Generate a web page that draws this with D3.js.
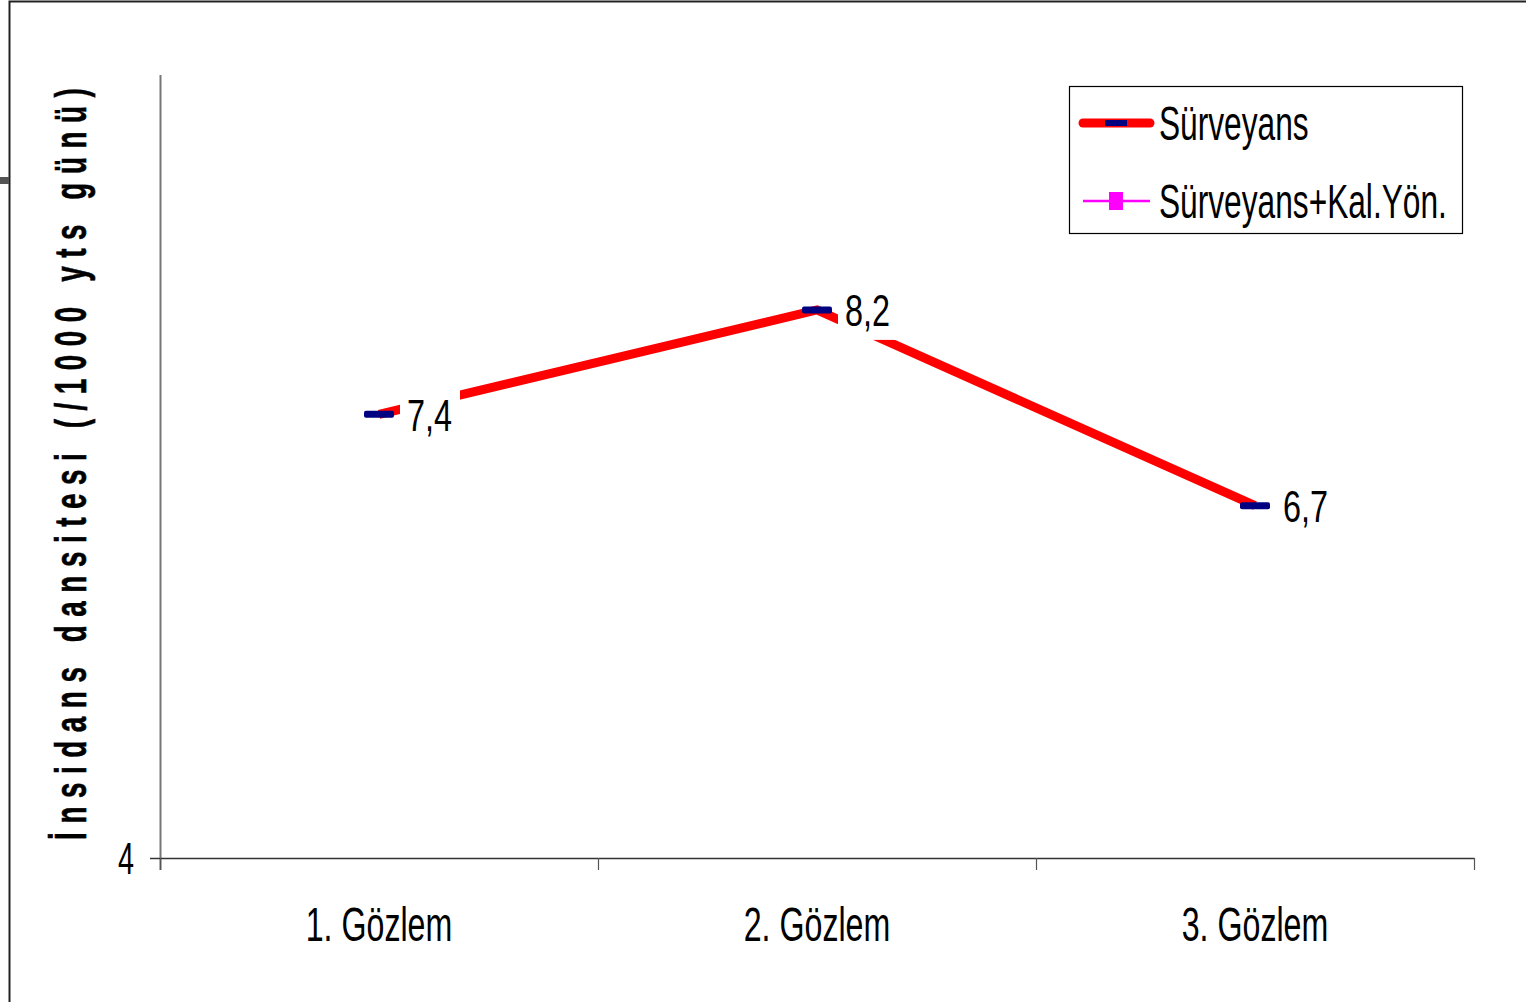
<!DOCTYPE html>
<html>
<head>
<meta charset="utf-8">
<script src="https://cdnjs.cloudflare.com/ajax/libs/d3/7.8.5/d3.min.js"></script>
<style>
  html, body { margin: 0; padding: 0; background: #fff; }
  svg { display: block; }
  text { font-family: "Liberation Sans", Arial, sans-serif; }
</style>
</head>
<body>
<svg id="chart" width="1526" height="1002"></svg>
<script>
// Observation periods and incidence density values (per 1000 catheter days)
const categories = ["1. Gözlem", "2. Gözlem", "3. Gözlem"];
const surveyans = [7.4, 8.2, 6.7];
const surveyansKalYon = [null, null, null];
const seriesNames = ["Sürveyans", "Sürveyans+Kal.Yön."];
const yTicks = [4];
const yDomain = [4, 10];

const svg = d3.select("#chart");

// condensed look: shrink glyphs horizontally around the text's own x position
function condense(sel, size, sx) {
  sel.each(function () {
    const t = d3.select(this);
    const x0 = +t.attr("x") || 0;
    t.attr("font-size", size)
     .attr("x", x0 / sx)
     .attr("transform", `scale(${sx},1)`);
  });
}

// outer frame
svg.append("path")
  .attr("d", "M9.5,1002 L9.5,1.5 L1526,1.5")
  .attr("fill", "none").attr("stroke", "#222").attr("stroke-width", 2);
svg.append("rect").attr("x", 0).attr("y", 177).attr("width", 9).attr("height", 7).attr("fill", "#555");

const plot = { left: 160, right: 1474, top: 75, bottom: 858 };

const x = d3.scaleBand().domain(categories).range([plot.left, plot.right]).padding(0);
const y = d3.scaleLinear().domain(yDomain).range([plot.bottom, plot.top]);
const cx = d => x(d) + x.bandwidth() / 2;

// y axis
const yAxis = svg.append("g").attr("transform", `translate(${plot.left},0)`)
  .call(d3.axisLeft(y).tickValues(yTicks).tickSize(10).tickPadding(16).tickFormat(d3.format("d")));
yAxis.select(".domain").attr("d", `M0.5,${plot.top}V${plot.bottom + 12}`).attr("stroke", "#777").attr("stroke-width", 2);
yAxis.selectAll(".tick line").attr("stroke", "#333").attr("stroke-width", 1.5);
yAxis.selectAll(".tick text").attr("fill", "#000").attr("dy", "0.34em").call(condense, 45, 0.64);

// x axis
const xAxis = svg.append("g").attr("transform", `translate(0,${plot.bottom})`)
  .call(d3.axisBottom(x).tickSize(0).tickPadding(49));
xAxis.select(".domain").attr("stroke", "#333").attr("stroke-width", 1.5);
xAxis.selectAll(".tick text").attr("fill", "#000").call(condense, 48, 0.67);
const boundaries = [...categories.map(c => x(c)), plot.right];
xAxis.selectAll(".bound").data(boundaries).join("line")
  .attr("x1", d => d + 0.5).attr("x2", d => d + 0.5)
  .attr("y1", 0).attr("y2", 12).attr("stroke", "#555").attr("stroke-width", 1.2);

// y axis title: bold, condensed, widely spaced
const titleSx = 0.62, titleLen = 752;
const title = svg.append("text")
  .attr("text-anchor", "middle")
  .attr("font-weight", "bold").attr("font-size", 45)
  .attr("fill", "#000")
  .text("İnsidans dansitesi (/1000 yts günü)");
const natural = title.node().getComputedTextLength();
const gaps = title.text().length - 1;
const spacing = (titleLen / titleSx - natural) / gaps;
title.attr("letter-spacing", spacing)
  .attr("stroke", "#000").attr("stroke-width", 0.6)
  .attr("transform", `translate(86,${(88 + 840) / 2}) rotate(-90) scale(${titleSx},1) translate(${spacing / 2},0)`);

// series line
const line = d3.line().defined(d => d.v != null).x(d => cx(d.c)).y(d => y(d.v));
const pts = categories.map((c, i) => ({ c, v: surveyans[i] }));
svg.append("path").datum(pts).attr("d", line)
  .attr("fill", "none").attr("stroke", "#ff0000").attr("stroke-width", 9)
  .attr("stroke-linejoin", "miter");

const pts2 = categories.map((c, i) => ({ c, v: surveyansKalYon[i] }));
svg.append("path").datum(pts2).attr("d", line)
  .attr("fill", "none").attr("stroke", "#ff00ff").attr("stroke-width", 2);

// markers
svg.selectAll(".mk").data(pts).join("rect")
  .attr("x", d => cx(d.c) - 15).attr("y", d => y(d.v) - 3.5)
  .attr("width", 30).attr("height", 7).attr("rx", 2)
  .attr("fill", "#000080");

// data labels with white backgrounds
const fmt = v => d3.format(".1f")(v).replace(".", ",");
const lab = svg.selectAll(".lab").data(pts).join("g")
  .attr("transform", d => `translate(${cx(d.c) + 28},${y(d.v)})`);
lab.append("rect").attr("x", -7).attr("y", -28).attr("width", 60).attr("height", 58).attr("fill", "#fff");
lab.append("text").attr("dy", "0.36em").attr("fill", "#000").text(d => fmt(d.v))
  .call(condense, 45, 0.72);

// legend
const lg = svg.append("g").attr("transform", "translate(1069,86)");
lg.append("rect").attr("x", 0.5).attr("y", 0.5).attr("width", 393).attr("height", 147)
  .attr("fill", "#fff").attr("stroke", "#000").attr("stroke-width", 1.2);
const rows = [
  { name: seriesNames[0], yy: 37, color: "#ff0000", w: 9, mk: "#000080", mw: 22, mh: 6 },
  { name: seriesNames[1], yy: 115, color: "#ff00ff", w: 2.5, mk: "#ff00ff", mw: 14, mh: 18 }
];
rows.forEach(r => {
  lg.append("line").attr("x1", 14).attr("x2", 81).attr("y1", r.yy).attr("y2", r.yy)
    .attr("stroke", r.color).attr("stroke-width", r.w).attr("stroke-linecap", r.w > 5 ? "round" : "butt");
  lg.append("rect").attr("x", 47 - r.mw / 2).attr("y", r.yy - r.mh / 2)
    .attr("width", r.mw).attr("height", r.mh).attr("fill", r.mk);
  lg.append("text").attr("x", 90).attr("y", r.yy).attr("dy", "0.36em")
    .attr("fill", "#000").text(r.name).call(condense, 48, 0.66);
});
</script>
</body>
</html>
